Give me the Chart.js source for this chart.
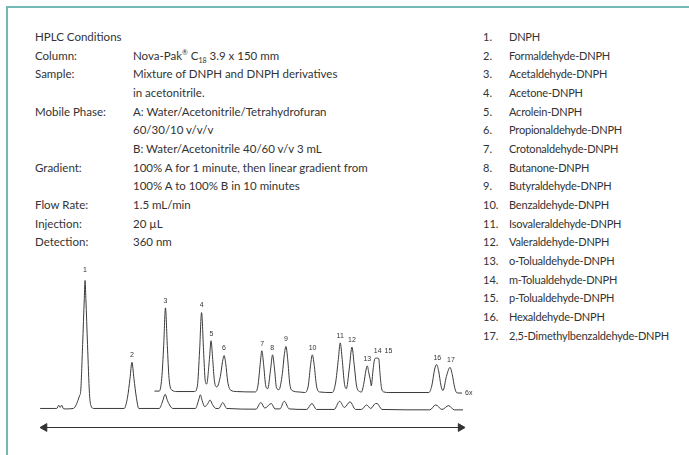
<!DOCTYPE html>
<html>
<head>
<meta charset="utf-8">
<script src="https://cdn.jsdelivr.net/npm/chart.js@4.4.1/dist/chart.umd.min.js"></script>
<style>
  html, body { margin: 0; padding: 0; background: #fff; }
  #page {
    position: relative;
    width: 689px;
    height: 455px;
    overflow: hidden;
    font-family: Lato, 'Open Sans', sans-serif;
    font-size: 11.5px;
    color: #333;
  }
  #frame {
    position: absolute;
    left: 6px;
    top: 6px;
    width: 700px;
    height: 500px;
    border-top: 2px solid #74b8b5;
    border-left: 2px solid #74b8b5;
  }
  .block { position: absolute; line-height: 18.65px; white-space: nowrap; }
  #conditions { left: 35px; top: 28px; }
  #conditions .lab { display: inline-block; width: 98px; }
  #compounds { left: 483px; top: 28px; font-size: 11px; letter-spacing: -0.2px; }
  #compounds .num { display: inline-block; width: 26px; letter-spacing: 0; }
  sup, sub { font-size: 7px; line-height: 0; }
  #chartBox { position: absolute; left: 20px; top: 260px; width: 470px; height: 185px; }
</style>
</head>
<body>
<div id="page">
  <div id="frame"></div>
  <div id="conditions" class="block"></div>
  <div id="compounds" class="block"></div>
  <div id="chartBox"><canvas id="chrom"></canvas></div>
</div>
<script>
// HPLC conditions text
const conditionLabels = ['HPLC Conditions', 'Column:', 'Sample:', '', 'Mobile Phase:', '', '', 'Gradient:', '', 'Flow Rate:', 'Injection:', 'Detection:'];
const conditionValues = [
  '',
  'Nova-Pak<sup>®</sup> C<sub>18</sub> 3.9 x 150 mm',
  'Mixture of DNPH and DNPH derivatives',
  'in acetonitrile.',
  'A: Water/Acetonitrile/Tetrahydrofuran',
  '60/30/10 v/v/v',
  'B: Water/Acetonitrile 40/60 v/v 3 mL',
  '100% A for 1 minute, then linear gradient from',
  '100% A to 100% B in 10 minutes',
  '1.5 mL/min',
  '20 µL',
  '360 nm'
];

// peak identities
const compounds = [
  'DNPH', 'Formaldehyde-DNPH', 'Acetaldehyde-DNPH', 'Acetone-DNPH', 'Acrolein-DNPH',
  'Propionaldehyde-DNPH', 'Crotonaldehyde-DNPH', 'Butanone-DNPH', 'Butyraldehyde-DNPH',
  'Benzaldehyde-DNPH', 'Isovaleraldehyde-DNPH', 'Valeraldehyde-DNPH', 'o-Tolualdehyde-DNPH',
  'm-Tolualdehyde-DNPH', 'p-Tolualdehyde-DNPH', 'Hexaldehyde-DNPH', '2,5-Dimethylbenzaldehyde-DNPH'
];

// 1x trace (retention time in min, response)
const lowerTime = [0, 0.5, 0.567, 0.633, 0.683, 0.733, 0.8, 0.9,
  1.133, 1.233, 1.35, 1.383, 1.45, 1.507, 1.533, 1.56, 1.617, 1.683, 1.733, 1.833,
  2.867, 2.983, 3.067, 3.133, 3.2, 3.283, 3.367,
  4.067, 4.183, 4.267, 4.35, 4.533,
  5.3, 5.41, 5.467, 5.533, 5.617, 5.717, 5.8, 5.883, 6.0, 6.1, 6.233, 6.367,
  7.367, 7.533, 7.667, 7.89, 8.017, 8.183, 8.333, 8.5,
  9.1, 9.277, 9.433, 10.033, 10.223, 10.383, 10.577, 10.767,
  10.967, 11.143, 11.283, 11.45, 11.5, 11.667,
  13.3, 13.5, 13.717, 13.943, 14.133, 14.433];
const lowerResp = [0, 0, 0, 2.3, 0.7, 2.3, -0.3, -0.3,
  0, 2.7, 9.3, 12, 45.3, 78, 90.7, 78, 45.3, 10.7, 2, 0,
  0, 8, 21.3, 32.7, 21.3, 8, 0,
  0, 5.3, 10, 5.3, 0,
  0, 6, 9.7, 5.3, 1.3, 3.3, 6, 2.7, 0, 0, 4.2, 0,
  -0.5, 4.2, 0.3, 3.5, -0.3, -0.3, 5.1, -0.3,
  -0.7, 3.5, -0.7, -0.7, 5.1, 0.7, 4.7, -0.7,
  -0.7, 2.5, 0, 3.5, 3.5, -0.7,
  -1, 2.5, -0.7, 2, -1, -1];

// 6x trace
const upperTime = [3.9, 4.067, 4.15, 4.217, 4.277, 4.34, 4.4, 4.5, 4.667,
  5.267, 5.367, 5.443, 5.51, 5.577, 5.633, 5.683, 5.777, 5.833, 5.89, 5.95, 6.033,
  6.15, 6.227, 6.277, 6.333, 6.4, 6.5, 6.7,
  7.333, 7.433, 7.51, 7.567, 7.627, 7.7, 7.767, 7.867, 7.933, 8.0, 8.067, 8.15,
  8.267, 8.333, 8.39, 8.45, 8.517, 8.6, 8.833,
  9.033, 9.15, 9.233, 9.29, 9.35, 9.433, 9.533,
  9.967, 10.083, 10.177, 10.243, 10.31, 10.383, 10.45, 10.55, 10.643, 10.717, 10.8, 10.9,
  10.967, 11.05, 11.117, 11.167, 11.217, 11.283, 11.3, 11.367, 11.423, 11.483, 11.557, 11.6, 11.65, 11.733, 11.9,
  13.267, 13.367, 13.467, 13.533, 13.6, 13.683, 13.75, 13.867, 13.99, 14.067, 14.15, 14.233, 14.4];
const upperResp = [12.3, 12.3, 21.3, 44.7, 71.3, 44.7, 21.3, 13, 12,
  12, 16, 41.3, 68, 41.3, 20, 17.3, 34.7, 48, 34.7, 19.3, 15.3,
  22.7, 33.3, 37.5, 32, 19.3, 13, 12,
  11.7, 16, 31.3, 40.9, 31.3, 16, 14, 28, 38, 28, 14.7, 13.3,
  24.7, 38, 44, 34.7, 18, 12.7, 11.7,
  11.3, 16, 31.3, 38, 31.3, 16, 11.7,
  11.3, 18, 34.7, 46.5, 34.7, 18, 14, 28, 43.5, 31.3, 16, 12,
  11.7, 18, 26.7, 30.2, 25.3, 18.7, 16, 28, 35.3, 35.7, 35.3, 24.7, 14.7, 11.7, 11.3,
  11.3, 16, 28, 31.1, 26.7, 16, 12.7, 22.7, 29.1, 24, 14.7, 11, 10.9];

// peak number labels: anchor time and apex response
const peakNumbers = ['1', '2', '3', '4', '5', '6', '7', '8', '9', '10', '11', '12', '13', '14', '15', '16', '17'];
const peakTimes = [1.533, 3.133, 4.277, 5.51, 5.843, 6.277, 7.577, 7.923, 8.39, 9.3, 10.243, 10.643, 11.167, 11.523, 11.89, 13.557, 14.023];
const peakHeights = [93, 32.7, 71.3, 68, 48, 37.5, 40.9, 38, 44, 38, 46.5, 43.5, 30.2, 35.7, 35.7, 31.1, 29.1];

// time direction arrow
const arrowTime = [0.15, 14.35];
const arrowResp = [-13.5, -13.5];
const traceLabel = '6x';

document.getElementById('conditions').innerHTML = conditionLabels
  .map((l, i) => `<div><span class="lab">${l}</span>${conditionValues[i]}</div>`)
  .join('');
document.getElementById('compounds').innerHTML = compounds
  .map((c, i) => `<div><span class="num">${i + 1}.</span>${c}</div>`)
  .join('');

const toPoints = (xs, ys) => xs.map((x, i) => ({ x, y: ys[i] }));

const labelPlugin = {
  id: 'peakLabels',
  afterDatasetsDraw(chart) {
    const { ctx, scales } = chart;
    ctx.save();
    ctx.fillStyle = '#333';
    ctx.font = '7px "Liberation Sans", Arial, sans-serif';
    ctx.textAlign = 'center';
    ctx.textBaseline = 'middle';
    peakNumbers.forEach((n, i) => {
      const px = scales.x.getPixelForValue(peakTimes[i]);
      const py = scales.y.getPixelForValue(peakHeights[i]) - 7;
      ctx.fillText(n, px, py);
    });
    const last = upperTime.length - 1;
    ctx.textAlign = 'left';
    ctx.fillText(traceLabel,
      scales.x.getPixelForValue(upperTime[last]) + 3,
      scales.y.getPixelForValue(upperResp[last]));
    ctx.restore();
  }
};

new Chart(document.getElementById('chrom'), {
  type: 'line',
  data: {
    datasets: [
      {
        data: toPoints(lowerTime, lowerResp),
        borderColor: '#3a3a3a',
        borderWidth: 1,
        pointRadius: 0,
        cubicInterpolationMode: 'monotone',
        clip: false
      },
      {
        data: toPoints(upperTime, upperResp),
        borderColor: '#3a3a3a',
        borderWidth: 1,
        pointRadius: 0,
        cubicInterpolationMode: 'monotone',
        clip: false
      },
      {
        data: toPoints(arrowTime, arrowResp),
        borderColor: '#333',
        backgroundColor: '#333',
        borderWidth: 1,
        pointStyle: 'triangle',
        pointRadius: 4.5,
        pointRotation: [-90, 90],
        clip: false
      }
    ]
  },
  options: {
    responsive: true,
    maintainAspectRatio: false,
    animation: false,
    layout: { padding: 0 },
    plugins: {
      legend: { display: false },
      tooltip: { enabled: false }
    },
    scales: {
      x: { type: 'linear', min: -0.5, max: 15.1667, display: false },
      y: { type: 'linear', min: -22, max: 101.333, display: false }
    }
  },
  plugins: [labelPlugin]
});
</script>
</body>
</html>
